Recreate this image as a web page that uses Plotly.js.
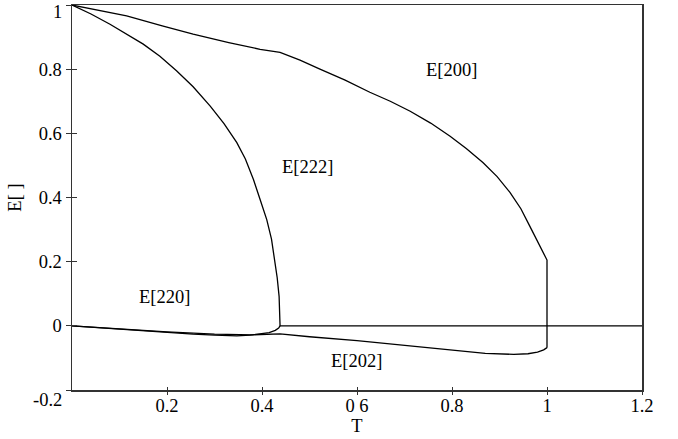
<!DOCTYPE html>
<html>
<head>
<meta charset="utf-8">
<script src="https://cdn.plot.ly/plotly-3.0.1.min.js"></script>
<style>html,body{margin:0;padding:0;background:#fff;}#chart{width:678px;height:439px;}</style>
</head>
<body>
<div id="chart"></div>
<script>
// E[200]
const t200 = [0, 0.06, 0.115, 0.19, 0.255, 0.33, 0.396, 0.438, 0.48, 0.522, 0.575, 0.627, 0.67, 0.712, 0.755, 0.796, 0.83, 0.865, 0.895, 0.922, 0.945, 0.964, 0.98, 0.992, 1.0, 1.0];
const e200 = [1, 0.983, 0.966, 0.935, 0.909, 0.883, 0.862, 0.852, 0.828, 0.80, 0.766, 0.728, 0.70, 0.669, 0.632, 0.591, 0.553, 0.509, 0.465, 0.416, 0.365, 0.31, 0.262, 0.225, 0.205, -0.068];
// E[222]
const t222 = [0, 0.04, 0.08, 0.115, 0.15, 0.185, 0.22, 0.255, 0.291, 0.32, 0.347, 0.365, 0.382, 0.396, 0.41, 0.42, 0.427, 0.432, 0.436, 0.437, 0.438, 1.2];
const e222 = [1, 0.972, 0.94, 0.91, 0.878, 0.84, 0.795, 0.745, 0.685, 0.63, 0.571, 0.52, 0.456, 0.394, 0.331, 0.27, 0.206, 0.15, 0.092, 0.04, 0, 0];
// E[220]
const t220 = [0, 0.115, 0.255, 0.3, 0.347, 0.375, 0.396, 0.415, 0.428, 0.435, 0.438];
const e220 = [0, -0.0125, -0.026, -0.029, -0.031, -0.029, -0.025, -0.021, -0.014, -0.007, 0];
// E[202]
const t202 = [0, 0.1, 0.2, 0.3, 0.38, 0.438, 0.5, 0.6, 0.7, 0.8, 0.87, 0.93, 0.96, 0.98, 0.993, 1.0];
const e202 = [0, -0.01, -0.019, -0.026, -0.028, -0.025, -0.034, -0.046, -0.06, -0.076, -0.086, -0.089, -0.087, -0.082, -0.075, -0.068];

const labelText = ['E[200]', 'E[222]', 'E[220]', 'E[202]'];
const labelT = [0.798, 0.495, 0.194, 0.598];
const labelE = [0.797, 0.494, 0.09, -0.109];

const xTickVals = [0.2, 0.4, 0.6, 0.8, 1, 1.2];
const xTickText = ['0.2', '0.4', '0 6', '0.8', '1', '1.2'];
const yTickVals = [-0.2, 0, 0.2, 0.4, 0.6, 0.8, 1];
const yTickText = ['', '0', '0.2', '0.4', '0.6', '0.8', ''];

const lineStyle = {color: '#000', width: 1.3};
const font = {family: 'Liberation Serif', size: 18.5, color: '#000'};

const traces = [
  {x: t200, y: e200, mode: 'lines', line: lineStyle, hoverinfo: 'none'},
  {x: t222, y: e222, mode: 'lines', line: lineStyle, hoverinfo: 'none'},
  {x: t220, y: e220, mode: 'lines', line: lineStyle, hoverinfo: 'none'},
  {x: t202, y: e202, mode: 'lines', line: lineStyle, hoverinfo: 'none'},
  {x: [0], y: [0], xaxis: 'x2', yaxis: 'y2', mode: 'markers', marker: {opacity: 0}, hoverinfo: 'none'}
];

const annotations = labelText.map((t, i) => ({
  x: labelT[i], y: labelE[i], xref: 'x', yref: 'y', text: t, showarrow: false,
  font: font, xanchor: 'center', yanchor: 'middle'
}));
annotations.push({x: (64 - 72) / 570, y: (390 - 400) / 385, xref: 'paper', yref: 'paper', text: '-0.2',
  showarrow: false, font: font, xanchor: 'right', yanchor: 'middle'});
annotations.push({x: (64 - 72) / 570, y: (390 + 0.5) / 385, xref: 'paper', yref: 'paper', text: '1',
  showarrow: false, font: font, xanchor: 'right', yanchor: 'top'});

const layout = {
  width: 678, height: 439,
  margin: {l: 72, r: 36, t: 5, b: 49, pad: 0},
  paper_bgcolor: '#fff', plot_bgcolor: '#fff',
  showlegend: false,
  font: font,
  xaxis: {
    range: [0, 1.2], tickvals: xTickVals, ticktext: xTickText,
    ticks: 'outside', ticklen: 3, tickwidth: 1, tickcolor: '#333',
    showline: true, linecolor: '#333', linewidth: 1.5, mirror: true,
    showgrid: false, zeroline: false, tickfont: font, ticklabelstandoff: -5,
    title: {text: 'T', font: font, standoff: 0}
  },
  yaxis: {
    range: [-0.2, 1.0], tickvals: yTickVals, ticktext: yTickText,
    ticks: 'outside', ticklen: 5, tickwidth: 1, tickcolor: '#333',
    showline: true, linecolor: '#333', linewidth: 1.5, mirror: true,
    showgrid: false, zeroline: false, tickfont: font,
    title: {text: 'E[ ]', font: font, standoff: 12}
  },
  xaxis2: {
    range: [0, 1.2], overlaying: 'x', side: 'bottom', tickvals: xTickVals,
    ticks: 'inside', ticklen: 3, tickwidth: 1, tickcolor: '#333',
    showticklabels: false, showline: false, showgrid: false, zeroline: false
  },
  yaxis2: {
    range: [-0.2, 1.0], overlaying: 'y', side: 'left', tickvals: yTickVals,
    ticks: 'inside', ticklen: 5, tickwidth: 1, tickcolor: '#333',
    showticklabels: false, showline: false, showgrid: false, zeroline: false
  },
  annotations: annotations
};

Plotly.newPlot('chart', traces, layout, {staticPlot: true, displayModeBar: false});
</script>
</body>
</html>
